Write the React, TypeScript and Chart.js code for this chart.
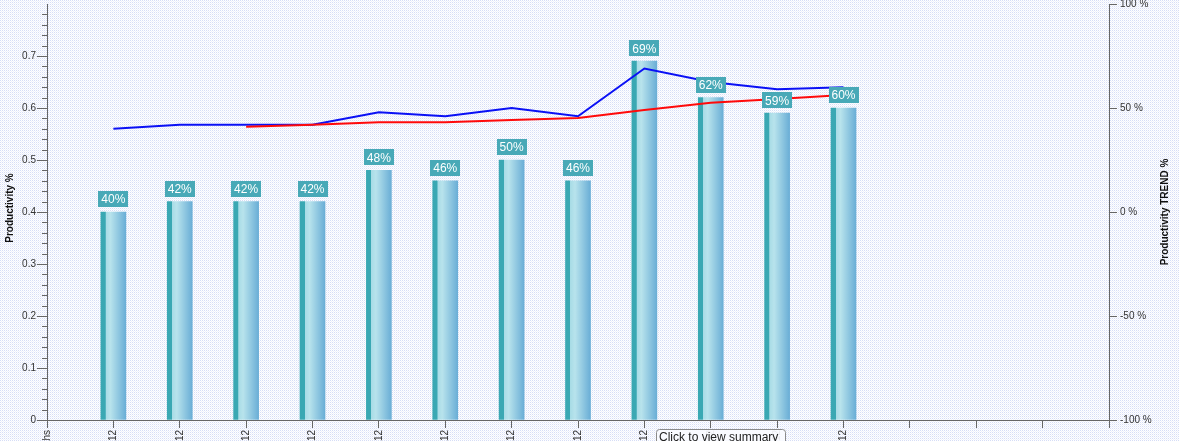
import React, { useEffect, useRef } from 'react';
import { Chart, registerables } from 'chart.js';

Chart.register(...registerables);

// ---- data ----
const categories = ['Months', 'Jan-12', 'Feb-12', 'Mar-12', 'Apr-12', 'May-12', 'Jun-12', 'Jul-12', 'Aug-12', 'Sep-12', 'Oct-12', 'Nov-12', 'Dec-12', '', '', '', ''];
const productivity = [null, 0.40, 0.42, 0.42, 0.42, 0.48, 0.46, 0.50, 0.46, 0.69, 0.62, 0.59, 0.60, null, null, null, null];
const productivityTrendPct = [null, 40, 42, 42, 42, 48, 46, 50, 46, 69, 62.5, 59, 60, null, null, null, null];
const averageTrendPct = [null, null, null, 41, 42, 43.1, 43.1, 44.2, 45.2, 49, 52.5, 54.3, 56.3, null, null, null, null];
const leftMinorStep = 0.02;
const leftMax = 0.8;
const rightMin = -100;
const rightMax = 100;
const tooltipText = 'Click to view summary';
const leftTitle = 'Productivity %';
const rightTitle = 'Productivity TREND %';

const FONT = "'Liberation Sans', Arial, sans-serif";

const bgPlugin = {
  id: 'bgPattern',
  beforeDraw(chart: any) {
    const ctx = chart.ctx;
    const pc = document.createElement('canvas');
    pc.width = 2;
    pc.height = 2;
    const p = pc.getContext('2d')!;
    p.fillStyle = '#ffffff';
    p.fillRect(0, 0, 2, 2);
    p.fillStyle = '#d6ddf6';
    p.fillRect(0, 0, 1, 1);
    p.fillStyle = '#eef1fb';
    p.fillRect(1, 1, 1, 1);
    const pattern = ctx.createPattern(pc, 'repeat');
    ctx.save();
    ctx.fillStyle = pattern;
    ctx.fillRect(0, 0, chart.width, chart.height);
    ctx.restore();
  },
};

const decorPlugin = {
  id: 'decor',
  afterDraw(chart: any) {
    const ctx = chart.ctx;
    const y = chart.scales.y;
    // minor ticks on left axis
    ctx.save();
    ctx.strokeStyle = '#666';
    ctx.lineWidth = 1;
    const steps = Math.round(leftMax / leftMinorStep);
    for (let i = 1; i < steps; i++) {
      if (i % 5 === 0) continue;
      const py = Math.round(y.getPixelForValue(i * leftMinorStep)) + 0.5;
      ctx.beginPath();
      ctx.moveTo(y.right - 5, py);
      ctx.lineTo(y.right, py);
      ctx.stroke();
    }
    ctx.restore();

    // axis titles
    const area = chart.chartArea;
    const cy = (area.top + area.bottom) / 2;
    ctx.save();
    ctx.fillStyle = '#111';
    ctx.textAlign = 'center';
    ctx.textBaseline = 'middle';
    ctx.font = `bold 10px ${FONT}`;
    ctx.translate(10, cy - 4);
    ctx.rotate(-Math.PI / 2);
    ctx.fillText(leftTitle, 0, 0);
    ctx.restore();
    ctx.save();
    ctx.fillStyle = '#111';
    ctx.textAlign = 'center';
    ctx.textBaseline = 'middle';
    ctx.font = `bold 10px ${FONT}`;
    ctx.translate(1165, cy);
    ctx.rotate(-Math.PI / 2);
    ctx.fillText(rightTitle, 0, 0);
    ctx.restore();

    // tooltip hint
    ctx.save();
    const bx = 656.5, by = 429.5, bw = 129, bh = 30;
    ctx.beginPath();
    ctx.roundRect(bx, by, bw, bh, 3);
    ctx.fillStyle = 'rgba(250,251,255,0.92)';
    ctx.fill();
    ctx.strokeStyle = '#8a8a8a';
    ctx.lineWidth = 1;
    ctx.stroke();
    ctx.fillStyle = '#222';
    ctx.font = `12px ${FONT}`;
    ctx.textAlign = 'left';
    ctx.textBaseline = 'top';
    ctx.fillText(tooltipText, 659, 432);
    ctx.restore();
  },
};

const labelPlugin = {
  id: 'barLabels',
  afterDatasetsDraw(chart: any) {
    const ctx = chart.ctx;
    const meta = chart.getDatasetMeta(2);
    ctx.save();
    ctx.font = `12px ${FONT}`;
    ctx.textAlign = 'center';
    ctx.textBaseline = 'middle';
    meta.data.forEach((bar: any, i: number) => {
      const v = productivity[i];
      if (v == null) return;
      const text = `${Math.round(v * 100)}%`;
      const w = 30, h = 16;
      const x = bar.x;
      const top = bar.y - 5 - h;
      ctx.fillStyle = '#48a9b7';
      ctx.fillRect(Math.round(x - w / 2), Math.round(top), w, h);
      ctx.fillStyle = '#ffffff';
      ctx.fillText(text, x, top + h / 2 + 1);
    });
    ctx.restore();
  },
};

export default function App() {
  const ref = useRef<HTMLCanvasElement>(null);
  useEffect(() => {
    const canvas = ref.current!;
    const chart = new Chart(canvas, {
      type: 'bar',
      data: {
        labels: categories,
        datasets: [
          {
            type: 'line',
            label: 'Average trend',
            data: averageTrendPct,
            yAxisID: 'y1',
            borderColor: '#ff0a0a',
            borderWidth: 2,
            pointRadius: 0,
            tension: 0,
            order: 0,
          } as any,
          {
            type: 'line',
            label: 'Productivity trend',
            data: productivityTrendPct,
            yAxisID: 'y1',
            borderColor: '#0a10f5',
            borderWidth: 2,
            pointRadius: 0,
            tension: 0,
            order: 1,
          } as any,
          {
            type: 'bar',
            label: 'Productivity',
            data: productivity,
            yAxisID: 'y',
            barThickness: 25,
            order: 2,
            backgroundColor: (c: any) => {
              const ch = c.chart;
              if (!ch.chartArea) return '#6cb8d0';
              const x = ch.scales.x.getPixelForValue(c.dataIndex);
              const g = ch.ctx.createLinearGradient(x - 12.5, 0, x + 12.5, 0);
              g.addColorStop(0, '#3aa8b3');
              g.addColorStop(0.18, '#3aa8b3');
              g.addColorStop(0.2, '#a8dce6');
              g.addColorStop(0.38, '#b8e3ec');
              g.addColorStop(1, '#6aaed6');
              return g;
            },
          } as any,
        ],
      },
      options: {
        animation: false,
        responsive: false,
        layout: { padding: { top: 4, left: 0, right: 0, bottom: 0 } },
        font: { family: FONT, size: 10 },
        plugins: {
          legend: { display: false },
          tooltip: { enabled: false },
        },
        scales: {
          x: {
            type: 'category',
            offset: false,
            grid: { offset: false, drawOnChartArea: false, drawTicks: true, tickLength: 8, color: '#666' },
            border: { color: '#666' },
            ticks: {
              autoSkip: false,
              minRotation: 90,
              maxRotation: 90,
              padding: 2,
              color: '#333',
              font: { family: FONT, size: 10 },
            },
            afterFit(s: any) {
              s.height = 60;
              s.paddingLeft = 0;
              s.paddingRight = 0;
            },
          },
          y: {
            position: 'left',
            min: 0,
            max: leftMax,
            grid: {
              drawOnChartArea: false,
              tickLength: 10,
              color: (c: any) => (c.tick && c.tick.value > 0.75 ? 'rgba(0,0,0,0)' : '#666'),
            },
            border: { color: '#666' },
            ticks: {
              stepSize: 0.1,
              padding: 1,
              color: '#333',
              font: { family: FONT, size: 10 },
              callback: (v: any) => {
                const n = Number(v);
                if (n > 0.75) return '';
                return n === 0 ? '0' : n.toFixed(1);
              },
            },
            afterFit(s: any) {
              s.width = 47;
              s.paddingTop = 0;
              s.paddingBottom = 0;
            },
          },
          y1: {
            position: 'right',
            min: rightMin,
            max: rightMax,
            grid: { drawOnChartArea: false, tickLength: 8, color: '#666' },
            border: { color: '#666' },
            ticks: {
              stepSize: 50,
              padding: 3,
              color: '#333',
              font: { family: FONT, size: 10 },
              callback: (v: any) => `${v} %`,
            },
            afterFit(s: any) {
              s.width = 70;
              s.paddingTop = 0;
              s.paddingBottom = 0;
            },
          },
        },
      } as any,
      plugins: [bgPlugin, labelPlugin, decorPlugin],
    });
    return () => chart.destroy();
  }, []);

  return (
    <div style={{ position: 'fixed', left: 0, top: 0, width: 1179, height: 480, overflow: 'hidden' }}>
      <canvas ref={ref} width={1179} height={480} style={{ width: 1179, height: 480, display: 'block' }} />
    </div>
  );
}
